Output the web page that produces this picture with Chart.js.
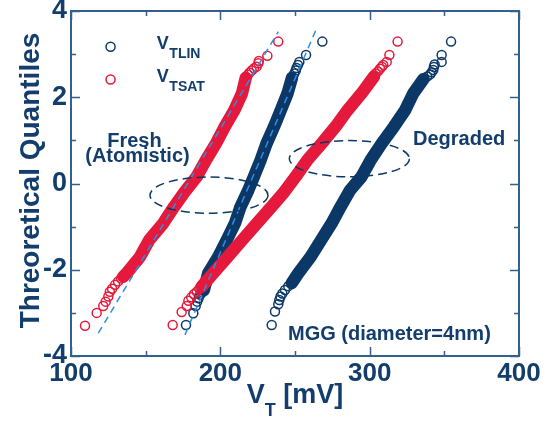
<!DOCTYPE html>
<html>
<head>
<meta charset="utf-8">
<script src="https://cdn.jsdelivr.net/npm/chart.js@4.4.1/dist/chart.umd.min.js"></script>
<style>
  html, body { margin: 0; padding: 0; background: #fff; }
</style>
</head>
<body>
<canvas id="myChart" width="553" height="421"></canvas>
<script>
// axis ticks
const tickX = [100, 200, 300, 400]
const minorX = [150, 250, 350]
const tickY = [-4, -2, 0, 2, 4]
const minorY = [-3, -1, 1, 3]

// Fresh (atomistic) VTSAT - red, left
const freshSatTailV = [109.4, 117.2, 121.6, 123.2, 125.0, 126.0, 127.5, 129.5, 131.5, 133.5,
                       217.0, 218.5, 219.5, 221.0, 222.5, 224.3, 225.5, 225.8, 231.5, 238.8]
const freshSatTailQ = [-3.30, -3.00, -2.84, -2.74, -2.62, -2.51, -2.44, -2.35, -2.27, -2.20,
                       2.45, 2.52, 2.57, 2.62, 2.67, 2.71, 2.79, 2.84, 2.96, 3.29]
const freshSatBandV = [135.0, 137.3, 146.2, 152.4, 161.8, 169.0, 176.0, 184.2, 190.5, 197.1, 203.0, 209.4, 214.5, 217.0]
const freshSatBandQ = [-2.16, -2.08, -1.70, -1.31, -0.92, -0.54, -0.20, 0.16, 0.55, 0.93, 1.32, 1.70, 2.09, 2.45]

// Fresh (atomistic) VTLIN - navy, left
const freshLinTailV = [177.0, 181.9, 183.5, 184.5, 185.5, 186.5, 187.8,
                       249.5, 250.5, 251.0, 252.0, 252.9, 257.4, 268.3]
const freshLinTailQ = [-3.28, -3.01, -2.84, -2.74, -2.66, -2.58, -2.52,
                       2.55, 2.62, 2.68, 2.75, 2.82, 2.98, 3.29]
const freshLinBandV = [189.0, 191.9, 198.6, 204.3, 209.8, 213.5, 218.8, 222.5, 227.0, 231.0, 236.0, 240.5, 245.0, 248.0]
const freshLinBandQ = [-2.47, -2.08, -1.70, -1.31, -0.92, -0.54, -0.15, 0.16, 0.545, 0.93, 1.32, 1.70, 2.09, 2.45]

// Degraded VTSAT - red, middle
const degSatTailV = [168.1, 174.1, 177.5, 178.6, 180.5, 182.3, 184.2, 186.0,
                     304.0, 305.5, 306.9, 308.2, 309.1, 311.4, 313.2, 318.7]
const degSatTailQ = [-3.28, -2.98, -2.84, -2.72, -2.64, -2.57, -2.51, -2.44,
                     2.55, 2.60, 2.66, 2.71, 2.75, 2.82, 2.98, 3.29]
const degSatBandV = [187.5, 195.3, 204.9, 214.7, 224.6, 234.2, 242.0, 250.5, 258.3, 267.9, 277.2, 285.2, 294.6, 302.9]
const degSatBandQ = [-2.39, -2.08, -1.70, -1.31, -0.92, -0.54, -0.23, 0.16, 0.545, 0.93, 1.32, 1.70, 2.09, 2.48]

// Degraded VTLIN - navy, right
const degLinTailV = [234.4, 236.6, 238.8, 239.5, 240.3, 241.5, 243.3, 245.5,
                     338.5, 340.5, 341.5, 342.6, 343.0, 343.5, 348.2, 348.2, 354.5]
const degLinTailQ = [-3.28, -2.97, -2.80, -2.70, -2.62, -2.55, -2.47, -2.38,
                     2.48, 2.53, 2.58, 2.63, 2.70, 2.76, 2.82, 2.98, 3.29]
const degLinBandV = [247.8, 252.2, 260.5, 267.5, 274.6, 280.5, 287.0, 294.6, 300.7, 308.1, 316.3, 323.7, 329.2, 336.0]
const degLinBandQ = [-2.31, -2.08, -1.70, -1.31, -0.92, -0.54, -0.15, 0.16, 0.545, 0.93, 1.32, 1.70, 2.09, 2.42]

// dashed normal fit lines (fresh)
const fitSatV = [118.3, 238.8]
const fitSatQ = [-3.47, 3.52]
const fitLinV = [176.3, 264.5]
const fitLinQ = [-3.51, 3.60]

const NAVY = '#0b3866'
const RED = '#e4193c'
const FIT = '#2f8de6'
const TEXT = '#123d6c'
const AXIS = '#33608c'
const FONT = "'Liberation Sans', Arial, sans-serif"

// annotation shapes, in data units
const ellipses = [
    { cx: 192.4, cy: -0.27, rx: 39.5, ry: 0.42 },
    { cx: 286.4, cy: 0.575, rx: 40.2, ry: 0.42 }
]

function pts(xs, ys) {
    return xs.map((x, i) => ({ x: x, y: ys[i] }))
}

function tails(xs, ys, color, order) {
    return {
        data: pts(xs, ys), showLine: false, order: order,
        pointRadius: 4.5, pointBorderWidth: 1.5,
        pointBorderColor: color, pointBackgroundColor: 'rgba(0,0,0,0)'
    }
}

function band(xs, ys, color, order) {
    return {
        data: pts(xs, ys), showLine: true, order: order, pointRadius: 0,
        borderColor: color, borderWidth: 12.5, borderCapStyle: 'round', borderJoinStyle: 'round'
    }
}

function fit(xs, ys) {
    return {
        data: pts(xs, ys), showLine: true, order: 0, pointRadius: 0,
        borderColor: FIT, borderWidth: 1.5, borderDash: [7, 5]
    }
}

const framePlugin = {
    id: 'frame',
    afterDatasetsDraw(chart) {
        const { ctx, chartArea: a, scales: { x, y } } = chart

        ctx.save()
        ctx.strokeStyle = NAVY
        ctx.lineWidth = 1.5
        ctx.setLineDash([9, 5])
        ellipses.forEach(e => {
            const px = x.getPixelForValue(e.cx)
            const py = y.getPixelForValue(e.cy)
            const rx = x.getPixelForValue(e.cx + e.rx) - px
            const ry = py - y.getPixelForValue(e.cy + e.ry)
            ctx.beginPath()
            ctx.ellipse(px, py, rx, ry, 0, 0, Math.PI * 2)
            ctx.stroke()
        })
        ctx.restore()

        ctx.save()
        ctx.strokeStyle = AXIS
        ctx.lineWidth = 2
        ctx.strokeRect(a.left, a.top, a.right - a.left, a.bottom - a.top)
        ctx.lineWidth = 1.5
        ctx.beginPath()
        const tx = (v, len) => {
            const p = Math.round(x.getPixelForValue(v)) + 0.5
            ctx.moveTo(p, a.bottom); ctx.lineTo(p, a.bottom - len)
            ctx.moveTo(p, a.top); ctx.lineTo(p, a.top + len)
        }
        const ty = (v, len) => {
            const p = Math.round(y.getPixelForValue(v)) + 0.5
            ctx.moveTo(a.left, p); ctx.lineTo(a.left + len, p)
            ctx.moveTo(a.right, p); ctx.lineTo(a.right - len, p)
        }
        tickX.forEach(v => tx(v, 9))
        minorX.forEach(v => tx(v, 5))
        tickY.forEach(v => ty(v, 9))
        minorY.forEach(v => ty(v, 5))
        ctx.stroke()
        ctx.restore()
    },
    afterDraw(chart) {
        const { ctx, chartArea: a, scales: { x, y } } = chart
        ctx.save()
        ctx.fillStyle = TEXT

        // axis titles
        ctx.textBaseline = 'alphabetic'
        ctx.textAlign = 'left'
        const big = 'bold 27px ' + FONT
        const sub = 'bold 18px ' + FONT
        ctx.font = big
        const wV = ctx.measureText('V').width
        const wR = ctx.measureText(' [mV]').width
        ctx.font = sub
        const wT = ctx.measureText('T').width
        let sx = (a.left + a.right) / 2 - (wV + wT + wR) / 2
        ctx.font = big
        ctx.fillText('V', sx, 403)
        ctx.font = sub
        ctx.fillText('T', sx + wV, 416)
        ctx.font = big
        ctx.fillText(' [mV]', sx + wV + wT, 403)

        ctx.save()
        ctx.translate(39, (a.top + a.bottom) / 2 - 3)
        ctx.rotate(-Math.PI / 2)
        ctx.textAlign = 'center'
        ctx.font = 'bold 28px ' + FONT
        ctx.fillText('Threoretical Quantiles', 0, 0)
        ctx.restore()

        // annotations
        ctx.font = 'bold 20px ' + FONT
        ctx.textAlign = 'center'
        ctx.fillText('Fresh', x.getPixelForValue(142.5), y.getPixelForValue(0.846))
        ctx.fillText('(Atomistic)', x.getPixelForValue(144.5), y.getPixelForValue(0.50))
        ctx.textAlign = 'left'
        ctx.fillText('Degraded', x.getPixelForValue(329), y.getPixelForValue(0.893))
        ctx.fillText('MGG (diameter=4nm)', x.getPixelForValue(245.3), y.getPixelForValue(-3.63))

        // legend
        const items = [['TLIN', NAVY, 3.17], ['TSAT', RED, 2.41]]
        items.forEach(it => {
            const cy = y.getPixelForValue(it[2])
            ctx.beginPath()
            ctx.lineWidth = 1.5
            ctx.strokeStyle = it[1]
            ctx.arc(x.getPixelForValue(126.5), cy, 4.5, 0, Math.PI * 2)
            ctx.stroke()
            const lx = x.getPixelForValue(157.5)
            ctx.font = 'bold 18px ' + FONT
            ctx.fillText('V', lx, cy + 2)
            ctx.font = 'bold 14px ' + FONT
            ctx.fillText(it[0], lx + 12.5, cy + 11.5)
        })
        ctx.restore()
    }
}

function main() {
    const ctx = document.getElementById('myChart')
    const tickFont = { family: FONT, size: 26, weight: 'bold' }

    new Chart(ctx, {
        type: 'scatter',
        data: {
            datasets: [
                fit(fitSatV, fitSatQ),
                fit(fitLinV, fitLinQ),
                tails(freshSatTailV, freshSatTailQ, RED, 1),
                tails(degSatTailV, degSatTailQ, RED, 1),
                band(freshSatBandV, freshSatBandQ, RED, 2),
                band(degSatBandV, degSatBandQ, RED, 2),
                tails(freshLinTailV, freshLinTailQ, NAVY, 3),
                tails(degLinTailV, degLinTailQ, NAVY, 3),
                band(freshLinBandV, freshLinBandQ, NAVY, 4),
                band(degLinBandV, degLinBandQ, NAVY, 4)
            ]
        },
        options: {
            responsive: false,
            animation: false,
            devicePixelRatio: 1,
            layout: { padding: { top: 11, right: 34, left: 0, bottom: 0 } },
            plugins: { legend: { display: false }, tooltip: { enabled: false } },
            scales: {
                x: {
                    type: 'linear', min: 100, max: 400,
                    grid: { display: false, drawTicks: false },
                    border: { display: false },
                    ticks: { stepSize: 100, autoSkip: false, maxRotation: 0, padding: 2, font: tickFont, color: TEXT },
                    afterFit(s) { s.height = 65; s.paddingLeft = 0; s.paddingRight = 0 }
                },
                y: {
                    type: 'linear', min: -4, max: 4,
                    grid: { display: false, drawTicks: false },
                    border: { display: false },
                    ticks: { stepSize: 2, autoSkip: false, padding: 4, font: { family: FONT, size: 27, weight: 'bold' }, color: TEXT },
                    afterFit(s) { s.width = 71; s.paddingTop = 0; s.paddingBottom = 0 }
                }
            }
        },
        plugins: [framePlugin]
    })
}

document.addEventListener('DOMContentLoaded', main)
</script>
</body>
</html>
